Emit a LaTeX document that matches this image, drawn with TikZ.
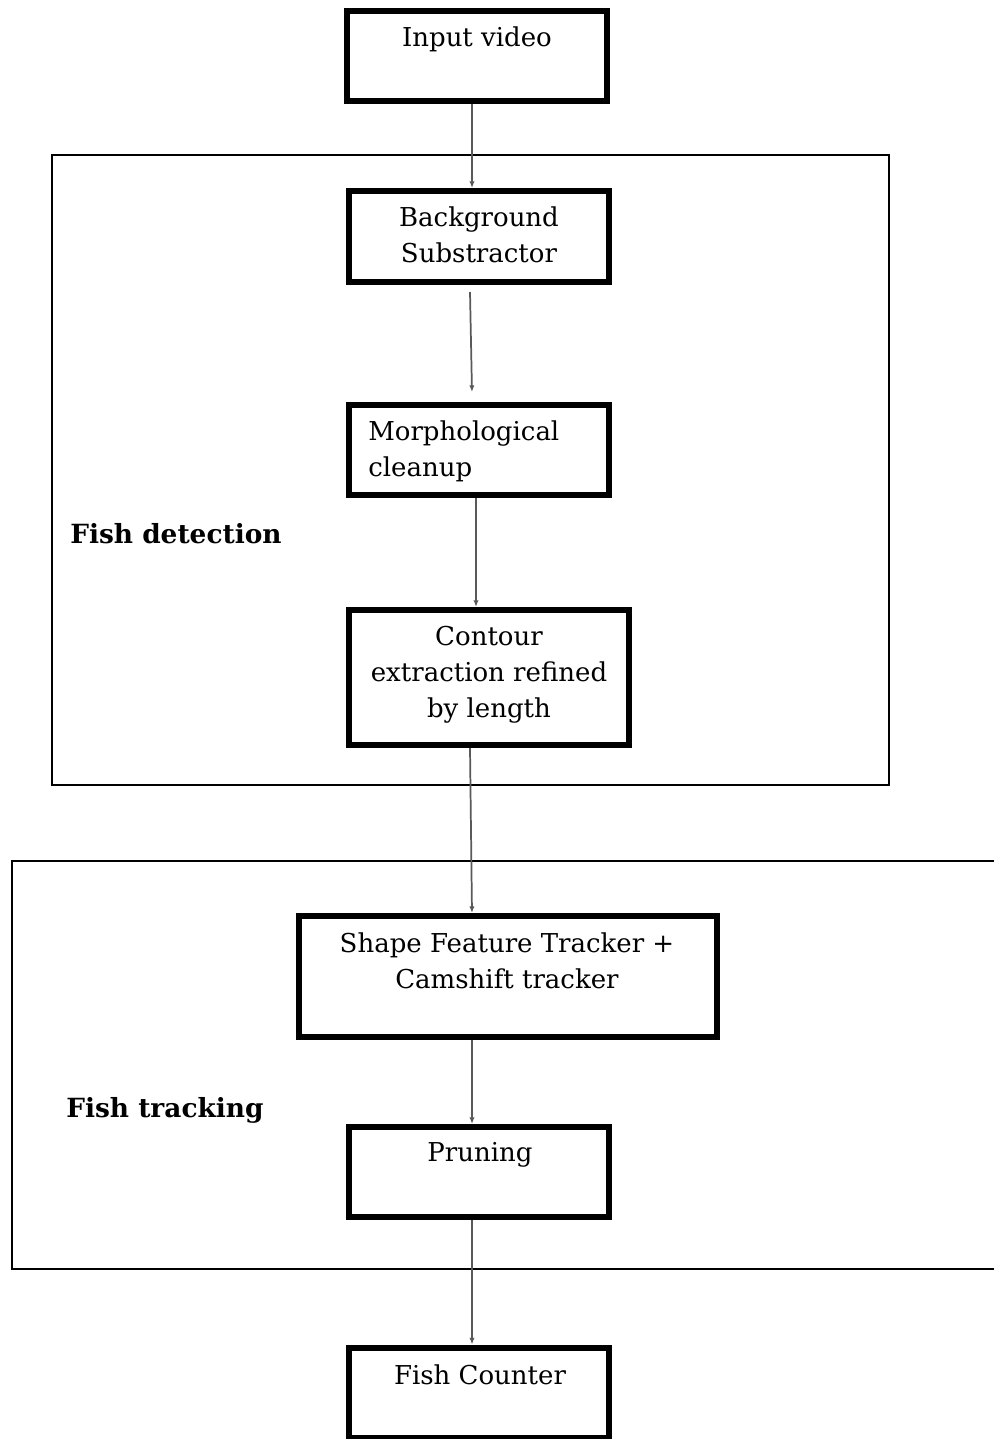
\documentclass[tikz,border=0pt]{standalone}
\usepackage{fontspec}
\setmainfont{DejaVu Serif}
\usetikzlibrary{arrows.meta,calc}

\tikzset{
	blk/.style={draw,line width=4.5pt,minimum width=195pt,minimum height=67.5pt,inner sep=0pt},
	txt/.style={anchor=north,inner sep=0pt,font=\fontsize{19.5}{27}\selectfont,align=center},
	grp/.style={line width=1.1pt},
	grplbl/.style={anchor=north west,inner sep=0pt,font=\fontsize{19.8}{27}\selectfont\bfseries},
	conn/.style={draw=black!65,line width=1.3pt,-{Latex[length=5pt,width=4pt]}}
}

\begin{document}
\begin{tikzpicture}[x=0.75pt,y=0.75pt,yscale=-1,xscale=1]
	\useasboundingbox (0,0) rectangle (994,1439);
	% groups
	\draw[grp] (52,155) rectangle (889,785);
	\draw[grp] (994,861) -- (12,861) -- (12,1269) -- (994,1269);
	\node[grplbl] (detlbl) at (70,523) {Fish detection};
	\node[grplbl] (trklbl) at (66,1097) {Fish tracking};
	% boxes
	\node[blk] (in) at (477,56) {};
	\node[blk,minimum height=68.25pt] (bg) at (479,236.5) {};
	\node[blk] (mo) at (479,450) {};
	\node[blk,minimum width=210pt,minimum height=101.25pt] (co) at (489,677.5) {};
	\node[blk,minimum width=313.5pt,minimum height=90.75pt] (sf) at (508,976.5) {};
	\node[blk] (pr) at (479,1172) {};
	\node[blk] (fc) at (479,1392.5) {};
	% texts
	\node[txt] (in-t) at (477,26) {Input video};
	\node[txt] (bg-t) at (479,206) {Background\\Substractor};
	\node[txt,anchor=north west,align=left] (mo-t) at (368,420) {Morphological\\cleanup};
	\node[txt] (co-t) at (489,626) {Contour\\extraction refined\\by length};
	\node[txt] (sf-t) at (507,932) {Shape Feature Tracker +\\Camshift tracker};
	\node[txt] (pr-t) at (480,1142) {Pruning};
	\node[txt] (fc-t) at (480,1364) {Fish Counter};
	% connectors
	\draw[conn] ($(in.south)+(-5,0)$) -- ($(bg.north)+(-7,0)$);
	\draw[conn] ($(bg.south)+(-9,7)$) -- ($(mo.north)+(-7,-10)$);
	\draw[conn] ($(mo.south)+(-3,0)$) -- ($(co.north)+(-13,0)$);
	\draw[conn] ($(co.south)+(-19,0)$) -- ($(sf.north)+(-36,0)$);
	\draw[conn] ($(sf.south)+(-36,0)$) -- ($(pr.north)+(-7,0)$);
	\draw[conn] ($(pr.south)+(-7,0)$) -- ($(fc.north)+(-7,0)$);
\end{tikzpicture}
\end{document}
